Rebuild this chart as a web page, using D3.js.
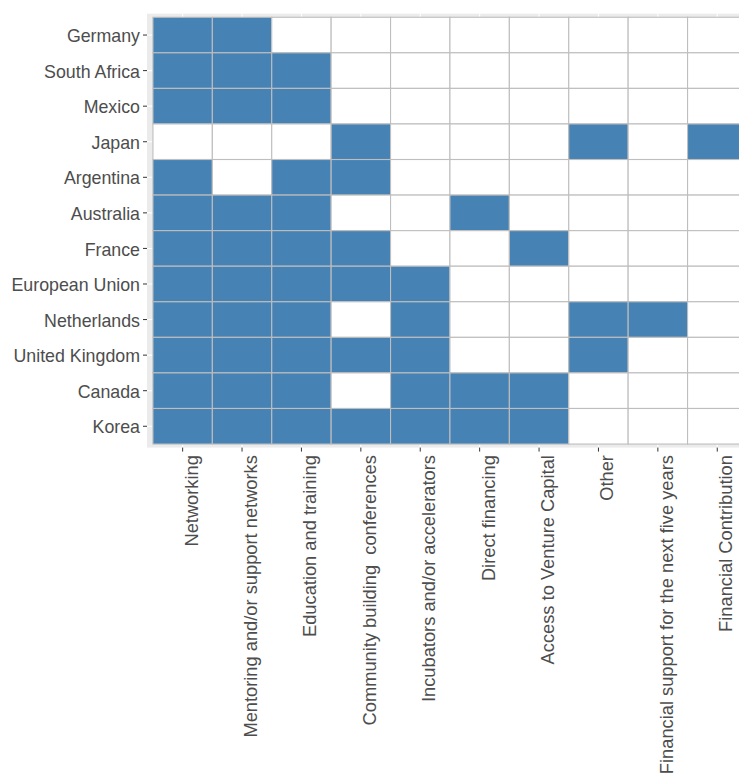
<!DOCTYPE html>
<html>
<head>
<meta charset="utf-8">
<script src="https://cdn.jsdelivr.net/npm/d3@7"></script>
<style>
  html, body { margin: 0; padding: 0; background: #fff; overflow: hidden; }
  svg { display: block; }
  .axis text { font-family: "Liberation Sans", Arial, sans-serif; font-size: 17.8px; fill: #4D4D4D; white-space: pre; }
  .axis.x text { font-size: 18.3px; }
  .axis line { stroke: #333333; }
</style>
</head>
<body>
<svg id="chart" width="739" height="776"></svg>
<script>
const countries = ["Germany", "South Africa", "Mexico", "Japan", "Argentina", "Australia",
  "France", "European Union", "Netherlands", "United Kingdom", "Canada", "Korea"];
const supports = ["Networking", "Mentoring and/or support networks", "Education and training",
  "Community building  conferences", "Incubators and/or accelerators", "Direct financing",
  "Access to Venture Capital", "Other", "Financial support for the next five years",
  "Financial Contribution"];
// 1 = support provided, 0 = not, one row per country in the order above
const provided = [
  [1,1,0,0,0,0,0,0,0,0],
  [1,1,1,0,0,0,0,0,0,0],
  [1,1,1,0,0,0,0,0,0,0],
  [0,0,0,1,0,0,0,1,0,1],
  [1,0,1,1,0,0,0,0,0,0],
  [1,1,1,0,0,1,0,0,0,0],
  [1,1,1,1,0,0,1,0,0,0],
  [1,1,1,1,1,0,0,0,0,0],
  [1,1,1,0,1,0,0,1,1,0],
  [1,1,1,1,1,0,0,1,0,0],
  [1,1,1,0,1,1,1,0,0,0],
  [1,1,1,1,1,1,1,0,0,0]
];

const cells = [];
countries.forEach((c, i) => supports.forEach((s, j) => cells.push({country: c, support: s, v: provided[i][j]})));

const svg = d3.select("#chart").attr("xml:space", "preserve");
const panel = {left: 147, right: 752.9, top: 13.7, bottom: 447.6};

const x = d3.scaleBand().domain(supports).range([panel.left, panel.right]).paddingInner(0).paddingOuter(0.1);
const y = d3.scaleBand().domain(countries).range([panel.top, panel.bottom]).paddingInner(0).paddingOuter(0.1);

// panel background
svg.append("rect")
  .attr("x", panel.left).attr("y", panel.top)
  .attr("width", panel.right - panel.left).attr("height", panel.bottom - panel.top)
  .attr("fill", "#EBEBEB");

// grid lines
svg.append("g").selectAll("line").data(supports).join("line")
  .attr("x1", d => x(d) + x.bandwidth() / 2).attr("x2", d => x(d) + x.bandwidth() / 2)
  .attr("y1", panel.top).attr("y2", panel.bottom)
  .attr("stroke", "#fff").attr("stroke-width", 1.1);
svg.append("g").selectAll("line").data(countries).join("line")
  .attr("y1", d => y(d) + y.bandwidth() / 2).attr("y2", d => y(d) + y.bandwidth() / 2)
  .attr("x1", panel.left).attr("x2", panel.right)
  .attr("stroke", "#fff").attr("stroke-width", 1.1);

// tiles
svg.append("g").selectAll("rect").data(cells).join("rect")
  .attr("x", d => x(d.support)).attr("y", d => y(d.country))
  .attr("width", x.bandwidth()).attr("height", y.bandwidth())
  .attr("fill", d => d.v ? "#4682B4" : "#FFFFFF")
  .attr("stroke", "#BEBEBE").attr("stroke-width", 1.1);

// y axis
const gy = svg.append("g").attr("class", "axis y")
  .attr("transform", `translate(${panel.left},0)`)
  .call(d3.axisLeft(y).tickSize(4).tickPadding(3));
gy.select(".domain").remove();
gy.selectAll("text").attr("dy", "0.4em");

// x axis
const gx = svg.append("g").attr("class", "axis x")
  .attr("transform", `translate(0,${panel.bottom})`)
  .call(d3.axisBottom(x).tickSize(4).tickPadding(3));
gx.select(".domain").remove();
gx.selectAll("text")
  .attr("transform", "rotate(-90)")
  .attr("text-anchor", "end")
  .attr("x", -7.5)
  .attr("y", 0)
  .attr("dy", "0.82em");
</script>
</body>
</html>
